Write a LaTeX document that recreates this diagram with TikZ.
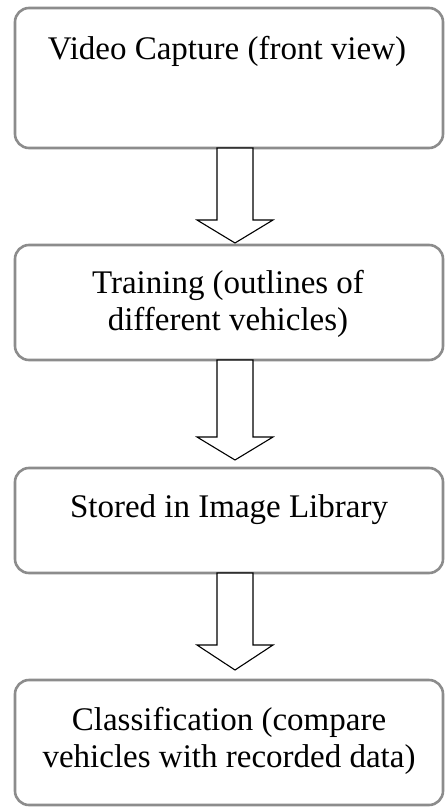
\documentclass[tikz,border=0pt]{standalone}
\usepackage{fontspec}
\setmainfont{Liberation Serif}
\usetikzlibrary{calc}
\tikzset{
  box/.style={draw=black!45, line width=2.6pt, rounded corners=14pt, fill=white, inner sep=0pt},
  lbl/.style={anchor=base, inner sep=0pt, font=\fontsize{33}{37}\selectfont, align=center},
  blockarrow/.style={draw=black, line width=1.1pt, fill=white, line join=miter}
}
\begin{document}
\begin{tikzpicture}[x=1pt,y=-1pt]
\useasboundingbox (0,0) rectangle (446,810);
% boxes
\node[box, minimum width=428pt, minimum height=140pt] (b1) at (229,78) {};
\node[box, minimum width=428pt, minimum height=115pt] (b2) at (229,302.5) {};
\node[box, minimum width=428pt, minimum height=105pt] (b3) at (229,520.5) {};
\node[box, minimum width=428pt, minimum height=125pt] (b4) at (229,742.5) {};
% labels
\node[lbl] (t1) at (227,60) {Video Capture (front view)};
\node[lbl] (t2) at (228,293) {Training (outlines of};
\node[lbl] (t2b) at (228,330) {different vehicles)};
\node[lbl] (t3) at (229,517) {Stored in Image Library};
\node[lbl] (t4) at (229,730) {Classification (compare};
\node[lbl] (t4b) at (229,767) {vehicles with recorded data)};
% block arrows
\foreach \a/\top/\base/\tip in {1/148/220/243, 2/360/437/460, 3/573/645/670}{
  \draw[blockarrow] (217,\top) -- (217,\base) -- (197,\base) -- (235,\tip) -- (273,\base) -- (253,\base) -- (253,\top) -- cycle;
}
\end{tikzpicture}
\end{document}
